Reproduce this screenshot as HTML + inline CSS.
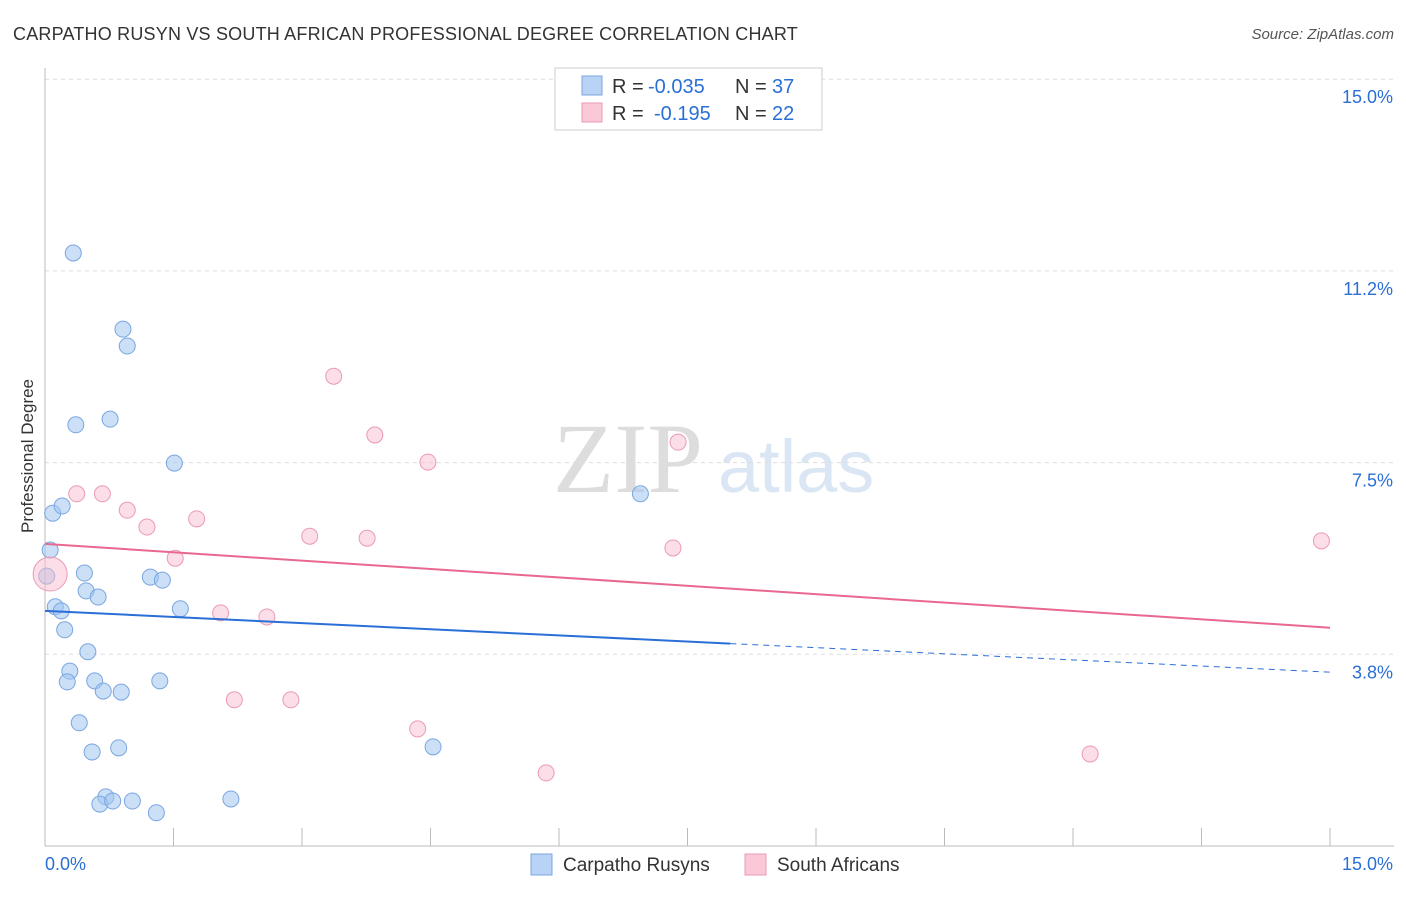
<!DOCTYPE html>
<html><head><meta charset="utf-8"><style>
body{margin:0;background:#fff;font-family:"Liberation Sans",sans-serif}
svg text{font-family:"Liberation Sans",sans-serif}
</style></head><body>
<svg id="c" width="1406" height="892">
<text x="13" y="40" font-size="18" fill="#333" letter-spacing="0.2">CARPATHO RUSYN VS SOUTH AFRICAN PROFESSIONAL DEGREE CORRELATION CHART</text>
<text x="1394" y="39" font-size="15" fill="#555" text-anchor="end" font-style="italic">Source: ZipAtlas.com</text>
<text x="33" y="456" font-size="17" fill="#333" text-anchor="middle" transform="rotate(-90 33 456)">Professional Degree</text>
<text x="553" y="492" font-size="100" fill="#ddd" style="font-family:'Liberation Serif',serif">ZIP</text>
<text x="718" y="492" font-size="74" fill="#dbe6f5">atlas</text>
<g id="grid"></g><g id="marks"></g>
<g>
<rect x="555" y="68" width="267" height="62" fill="#fff" stroke="#ccc"/>
<rect x="582" y="76" width="20" height="19" fill="#b8d3f5" stroke="#7aa6e0"/>
<rect x="582" y="103" width="20" height="19" fill="#fac8d6" stroke="#eb9ab4"/>
<text x="612" y="93" font-size="20" fill="#333">R =</text>
<text x="648" y="93" font-size="20" fill="#2a6fd6">-0.035</text>
<text x="735" y="93" font-size="20" fill="#333">N =</text>
<text x="772" y="93" font-size="20" fill="#2a6fd6">37</text>
<text x="612" y="120" font-size="20" fill="#333">R =</text>
<text x="654" y="120" font-size="20" fill="#2a6fd6">-0.195</text>
<text x="735" y="120" font-size="20" fill="#333">N =</text>
<text x="772" y="120" font-size="20" fill="#2a6fd6">22</text>
</g>
<g>
<rect x="531" y="854" width="21" height="21" fill="#b8d3f5" stroke="#7aa6e0"/>
<text x="563" y="871" font-size="19" fill="#333">Carpatho Rusyns</text>
<rect x="745" y="854" width="21" height="21" fill="#fac8d6" stroke="#eb9ab4"/>
<text x="777" y="871" font-size="19" fill="#333">South Africans</text>
</g>
</svg>
<script>
const blueX=[0.33,0.91,0.96,0.36,0.76,1.51,0.09,0.20,0.06,0.02,0.46,0.48,0.62,1.23,1.37,0.12,0.19,1.58,0.23,0.50,0.29,0.26,0.58,0.68,0.89,1.34,0.40,0.55,0.86,0.71,0.64,0.79,1.02,1.30,2.17,4.53,6.95];
const blueY=[11.6,10.11,9.78,8.24,8.35,7.49,6.51,6.65,5.79,5.28,5.34,4.99,4.87,5.26,5.20,4.68,4.60,4.64,4.23,3.80,3.42,3.21,3.23,3.03,3.01,3.23,2.41,1.84,1.92,0.96,0.82,0.88,0.88,0.65,0.92,1.94,6.89];
const pinkX=[0.37,0.67,0.96,1.19,1.77,1.52,3.37,3.85,4.47,3.09,3.76,7.39,7.33,2.05,2.59,2.21,2.87,4.35,5.85,12.20,14.90,0.06];
const pinkY=[6.89,6.89,6.57,6.24,6.40,5.63,9.19,8.04,7.51,6.06,6.02,7.90,5.83,4.56,4.48,2.86,2.86,2.29,1.43,1.80,5.97,5.32];
const pinkR=[8,8,8,8,8,8,8,8,8,8,8,8,8,8,8,8,8,8,8,8,8,17];
const blueTrend=[4.60,3.40];
const blueSolidEnd=8.0;
const pinkTrend=[5.91,4.27];
const yTicks=[15.0,11.25,7.5,3.75];
const yTickLabels=["15.0%","11.2%","7.5%","3.8%"];
const xTicks=[0,1.5,3,4.5,6,7.5,9,10.5,12,13.5,15];
const NS="http://www.w3.org/2000/svg";
const X=v=>45+v/15*1285, Y=v=>846-v/3.75*191.7;
function mk(t,a,p){const e=document.createElementNS(NS,t);for(const k in a)e.setAttribute(k,a[k]);p.appendChild(e);return e;}
const g=document.getElementById('grid'),m=document.getElementById('marks');
yTicks.forEach((v,i)=>{
 const l=mk('line',{x1:45,x2:1394,y1:Y(v),y2:Y(v),stroke:'#ddd','stroke-dasharray':'4,4'},g);
 
 
 const t=mk('text',{x:1393,y:Y(v)+24,'font-size':18,fill:'#2a6fd6','text-anchor':'end'},g);t.textContent=yTickLabels[i];
 
 
});
const ax=mk('line',{x1:45,x2:45,y1:68,y2:846,stroke:'#bbb'},g);


const bx=mk('line',{x1:45,x2:1394,y1:846,y2:846,stroke:'#bbb'},g);


xTicks.forEach(v=>{const l=mk('line',{x1:X(v),x2:X(v),y1:828,y2:846,stroke:'#bbb'},g);
 
 });
[["0.0%",45,'start'],["15.0%",1393,'end']].forEach(a=>{const t=mk('text',{x:a[1],y:870,'font-size':18,fill:'#2a6fd6','text-anchor':a[2]},g);t.textContent=a[0];
 
 });
blueX.forEach((x,i)=>{const c=mk('circle',{cx:X(x),cy:Y(blueY[i]),r:8,fill:'rgba(160,196,240,0.55)',stroke:'#7aa6e0','stroke-width':1},m);
 
 });
pinkX.forEach((x,i)=>{const c=mk('circle',{cx:X(x),cy:Y(pinkY[i]),r:pinkR[i],fill:'rgba(248,190,208,0.5)',stroke:'#eb9ab4','stroke-width':1},m);
 
 });
const bAt=x=>blueTrend[0]+(blueTrend[1]-blueTrend[0])*x/15;
const l1=mk('line',{x1:X(0),y1:Y(bAt(0)),x2:X(blueSolidEnd),y2:Y(bAt(blueSolidEnd)),stroke:'#2a6fd6','stroke-width':2},m);


const l2=mk('line',{x1:X(blueSolidEnd),y1:Y(bAt(blueSolidEnd)),x2:X(15),y2:Y(bAt(15)),stroke:'#2a6fd6','stroke-width':1,'stroke-dasharray':'6,5'},m);


const l3=mk('line',{x1:X(0),y1:Y(pinkTrend[0]),x2:X(15),y2:Y(pinkTrend[1]),stroke:'#e8688f','stroke-width':2},m);


</script>
</body></html>
